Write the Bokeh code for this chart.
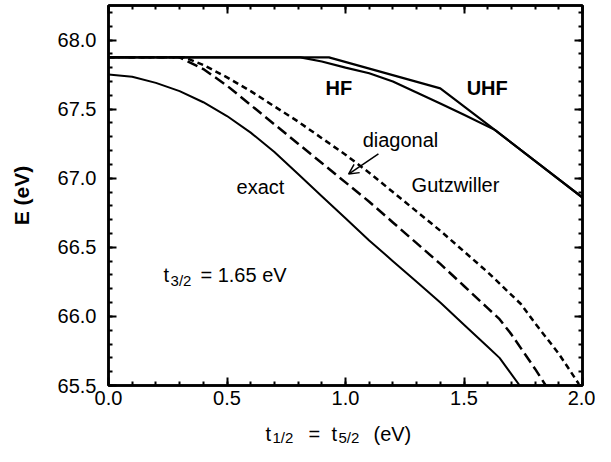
from bokeh.plotting import figure
from bokeh.layouts import column
from bokeh.models import (Range1d, LinearAxis, SingleIntervalTicker, PrintfTickFormatter,
                          CustomJSTickFormatter, Label, Arrow, OpenHead)
from bokeh.embed import file_html
from bokeh.resources import INLINE

# ---- data ----
exact_t = [0.0, 0.1, 0.2, 0.3, 0.4, 0.5, 0.6, 0.7, 0.8, 0.9, 1.0, 1.1, 1.2, 1.3, 1.4, 1.5, 1.6, 1.65, 1.735]
exact_E = [67.75, 67.735, 67.69, 67.63, 67.55, 67.45, 67.33, 67.19, 67.03, 66.87, 66.71, 66.55, 66.40,
           66.25, 66.10, 65.94, 65.78, 65.70, 65.50]

diag_t = [0.0, 0.30, 0.4, 0.5, 0.6, 0.7, 0.8, 0.9, 1.0, 1.1, 1.2, 1.3, 1.4, 1.5, 1.6, 1.65, 1.7, 1.8, 1.845]
diag_E = [67.875, 67.875, 67.79, 67.67, 67.53, 67.39, 67.25, 67.11, 66.97, 66.83, 66.68, 66.53, 66.38,
          66.22, 66.06, 65.98, 65.87, 65.62, 65.50]

gutz_t = [0.0, 0.32, 0.4, 0.5, 0.6, 0.7, 0.8, 0.9, 1.0, 1.1, 1.2, 1.3, 1.4, 1.5, 1.6, 1.74, 1.8, 1.9, 1.985]
gutz_E = [67.875, 67.875, 67.82, 67.73, 67.63, 67.52, 67.41, 67.29, 67.17, 67.04, 66.90, 66.76, 66.62,
          66.47, 66.32, 66.09, 65.95, 65.73, 65.51]

hf_t = [0.0, 0.81, 0.9, 1.0, 1.1, 1.2, 1.3, 1.4, 1.5, 1.63, 2.0]
hf_E = [67.875, 67.875, 67.845, 67.80, 67.76, 67.70, 67.62, 67.54, 67.46, 67.35, 66.86]

uhf_t = [0.0, 0.93, 1.40, 1.63, 2.0]
uhf_E = [67.875, 67.875, 67.65, 67.35, 66.86]

x_lim = (0.0, 2.0)
y_lim = (65.5, 68.25)

FONT = "Liberation Sans"
W = 595
FRAME_L = 108
FRAME_W = 474

p = figure(width=W, height=416, x_range=Range1d(*x_lim), y_range=Range1d(*y_lim),
           output_backend="svg", toolbar_location=None, title=None,
           min_border_left=FRAME_L, min_border_right=W - FRAME_L - FRAME_W,
           min_border_top=5, min_border_bottom=31)
p.grid.visible = False
p.outline_line_color = "black"
p.outline_line_width = 2.5
p.background_fill_color = "white"
p.border_fill_color = "white"

p.add_layout(LinearAxis(), "above")
p.add_layout(LinearAxis(), "right")

for ax in p.axis:
    ax.ticker = SingleIntervalTicker(interval=0.5, num_minor_ticks=5)
    ax.formatter = PrintfTickFormatter(format="%.1f")
    ax.axis_line_width = 2.5
    ax.axis_line_color = "black"
    ax.major_tick_in = 8
    ax.major_tick_out = 0
    ax.minor_tick_in = 4
    ax.minor_tick_out = 0
    ax.major_tick_line_width = 2
    ax.minor_tick_line_width = 2
    ax.major_label_text_font = FONT
    ax.major_label_text_font_size = "20px"
    ax.major_label_text_color = "black"

for ax in (p.above[0], p.right[0]):
    ax.formatter = CustomJSTickFormatter(code="return ''")
    ax.major_label_standoff = 0

p.xaxis[0].major_label_standoff = 8
p.yaxis[0].major_label_standoff = 12
p.yaxis[0].axis_label = "E (eV)"
p.yaxis[0].axis_label_text_font = FONT
p.yaxis[0].axis_label_text_font_size = "21px"
p.yaxis[0].axis_label_text_font_style = "bold"
p.yaxis[0].axis_label_text_color = "black"
p.yaxis[0].axis_label_standoff = 22

# ---- curves ----
p.line(uhf_t, uhf_E, line_color="black", line_width=2.2)
p.line(hf_t, hf_E, line_color="black", line_width=2.2)
p.line(exact_t, exact_E, line_color="black", line_width=2)
p.line(diag_t, diag_E, line_color="black", line_width=2.5, line_dash="11 5")
p.line(gutz_t, gutz_E, line_color="black", line_width=2.5, line_dash="6 4")

# ---- in-plot labels ----
def lab(fig, x, y, text, bold=False, size="20px", align="center", baseline="middle"):
    fig.add_layout(Label(x=x, y=y, text=text, text_font=FONT, text_font_size=size,
                         text_font_style="bold" if bold else "normal", text_color="black",
                         text_align=align, text_baseline=baseline))

lab(p, 0.972, 67.653, "HF", bold=True)
lab(p, 1.598, 67.653, "UHF", bold=True)
lab(p, 1.232, 67.279, "diagonal")
lab(p, 1.464, 66.952, "Gutzwiller")
lab(p, 0.641, 66.94, "exact")

lab(p, 0.232, 66.30, "t", align="left", baseline="alphabetic")
lab(p, 0.262, 66.257, "3/2", size="15px", align="left", baseline="alphabetic")
lab(p, 0.388, 66.30, "= 1.65 eV", align="left", baseline="alphabetic")

p.add_layout(Arrow(end=OpenHead(size=10, line_width=1.5, line_color="black"),
                   x_start=1.139, y_start=67.176, x_end=1.013, y_end=67.03,
                   line_width=1.5, line_color="black"))

# ---- x-axis title strip (subscripts need separate pieces) ----
H2 = 30
p2 = figure(width=W, height=H2, x_range=p.x_range, y_range=Range1d(0, H2),
            output_backend="svg", toolbar_location=None, title=None,
            x_axis_type=None, y_axis_type=None,
            min_border_left=FRAME_L, min_border_right=W - FRAME_L - FRAME_W,
            min_border_top=0, min_border_bottom=0)
p2.outline_line_color = None
p2.background_fill_color = "white"
p2.border_fill_color = "white"

def tx(px):
    # horizontal page pixel -> data x of the shared range
    return x_lim[0] + (px - FRAME_L) * (x_lim[1] - x_lim[0]) / FRAME_W

BASE = 13   # baseline of main text, pixels above strip bottom
SUB = 9     # baseline of subscripts
lab(p2, tx(265), BASE, "t", align="left", baseline="alphabetic")
lab(p2, tx(272), SUB, "1/2", size="15px", align="left", baseline="alphabetic")
lab(p2, tx(308), BASE, "=", align="left", baseline="alphabetic")
lab(p2, tx(331), BASE, "t", align="left", baseline="alphabetic")
lab(p2, tx(338), SUB, "5/2", size="15px", align="left", baseline="alphabetic")
lab(p2, tx(373), BASE, "(eV)", align="left", baseline="alphabetic")

layout = column(p, p2, spacing=0)
open("out.html", "w").write(file_html(layout, INLINE))
